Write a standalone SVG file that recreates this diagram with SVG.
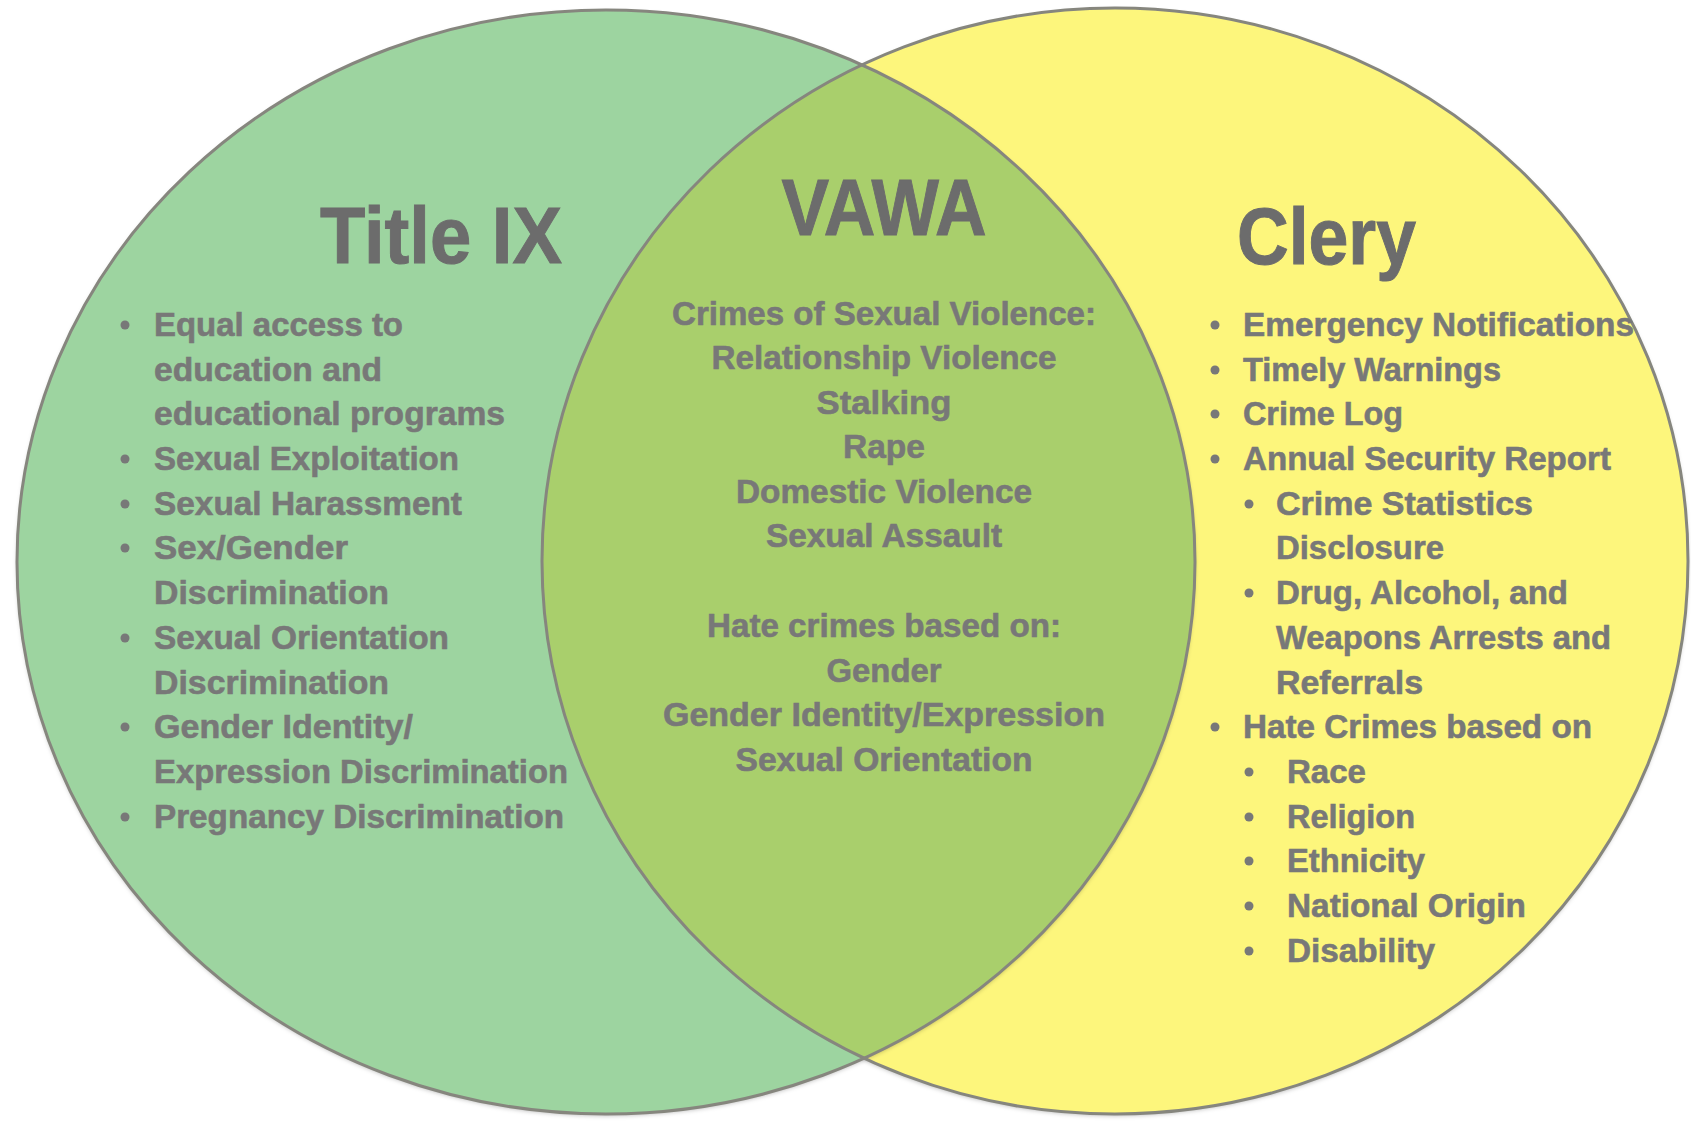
<svg xmlns="http://www.w3.org/2000/svg" width="1691" height="1124" viewBox="0 0 1691 1124">
<style>
  .t { font-family: "Liberation Sans", Arial, sans-serif; font-weight: bold; font-size: 34px; fill: #787878; stroke: #787878; stroke-width: 0.6; }
  .h { font-family: "Liberation Sans", Arial, sans-serif; font-weight: bold; font-size: 80px; fill: #6c6c6c; stroke: #6c6c6c; stroke-width: 1; }
  .m { text-anchor: middle; }
  .edge { fill: none; stroke: #86867e; stroke-width: 3; }
  .b { fill: #787878; }
</style>
<defs>
  <clipPath id="clipYellow">
    <ellipse cx="1115" cy="561" rx="573" ry="553"/>
  </clipPath>
  <filter id="shadow" x="-5%" y="-5%" width="110%" height="110%">
    <feDropShadow dx="0" dy="2" stdDeviation="2" flood-color="#000000" flood-opacity="0.25"/>
  </filter>
</defs>

<g id="venn-shapes">
  <ellipse id="clery-circle" cx="1115" cy="561" rx="573" ry="553" fill="#fdf67b" filter="url(#shadow)"/>
  <ellipse id="titleix-circle" cx="606" cy="562" rx="589" ry="552" fill="#9dd4a0" filter="url(#shadow)"/>
  <ellipse id="vawa-overlap" cx="606" cy="562" rx="589" ry="552" fill="#a9cf6c" clip-path="url(#clipYellow)"/>
  <ellipse class="edge" cx="1115" cy="561" rx="573" ry="553"/>
  <ellipse class="edge" cx="606" cy="562" rx="589" ry="552"/>
</g>

<g id="titleix">
  <text class="h" x="320" y="263" textLength="242" lengthAdjust="spacingAndGlyphs">Title IX</text>
  <circle class="b" cx="125" cy="325" r="4.5"/>
  <text class="t" x="154" y="336" textLength="249" lengthAdjust="spacingAndGlyphs">Equal access to</text>
  <text class="t" x="154" y="381" textLength="228" lengthAdjust="spacingAndGlyphs">education and</text>
  <text class="t" x="154" y="425" textLength="351" lengthAdjust="spacingAndGlyphs">educational programs</text>
  <circle class="b" cx="125" cy="459" r="4.5"/>
  <text class="t" x="154" y="470" textLength="305" lengthAdjust="spacingAndGlyphs">Sexual Exploitation</text>
  <circle class="b" cx="125" cy="504" r="4.5"/>
  <text class="t" x="154" y="515" textLength="308" lengthAdjust="spacingAndGlyphs">Sexual Harassment</text>
  <circle class="b" cx="125" cy="548" r="4.5"/>
  <text class="t" x="154" y="559" textLength="194" lengthAdjust="spacingAndGlyphs">Sex/Gender</text>
  <text class="t" x="154" y="604" textLength="235" lengthAdjust="spacingAndGlyphs">Discrimination</text>
  <circle class="b" cx="125" cy="638" r="4.5"/>
  <text class="t" x="154" y="649" textLength="295" lengthAdjust="spacingAndGlyphs">Sexual Orientation</text>
  <text class="t" x="154" y="694" textLength="235" lengthAdjust="spacingAndGlyphs">Discrimination</text>
  <circle class="b" cx="125" cy="727" r="4.5"/>
  <text class="t" x="154" y="738" textLength="259" lengthAdjust="spacingAndGlyphs">Gender Identity/</text>
  <text class="t" x="154" y="783" textLength="414" lengthAdjust="spacingAndGlyphs">Expression Discrimination</text>
  <circle class="b" cx="125" cy="817" r="4.5"/>
  <text class="t" x="154" y="828" textLength="410" lengthAdjust="spacingAndGlyphs">Pregnancy Discrimination</text>
</g>

<g id="vawa">
  <text class="h m" x="884" y="235" textLength="205" lengthAdjust="spacingAndGlyphs">VAWA</text>
  <text class="t m" x="884" y="325" textLength="424" lengthAdjust="spacingAndGlyphs">Crimes of Sexual Violence:</text>
  <text class="t m" x="884" y="369" textLength="345" lengthAdjust="spacingAndGlyphs">Relationship Violence</text>
  <text class="t m" x="884" y="414" textLength="135" lengthAdjust="spacingAndGlyphs">Stalking</text>
  <text class="t m" x="884" y="458" textLength="82" lengthAdjust="spacingAndGlyphs">Rape</text>
  <text class="t m" x="884" y="503" textLength="296" lengthAdjust="spacingAndGlyphs">Domestic Violence</text>
  <text class="t m" x="884" y="547" textLength="236" lengthAdjust="spacingAndGlyphs">Sexual Assault</text>
  <text class="t m" x="884" y="637" textLength="354" lengthAdjust="spacingAndGlyphs">Hate crimes based on:</text>
  <text class="t m" x="884" y="682" textLength="115" lengthAdjust="spacingAndGlyphs">Gender</text>
  <text class="t m" x="884" y="726" textLength="442" lengthAdjust="spacingAndGlyphs">Gender Identity/Expression</text>
  <text class="t m" x="884" y="771" textLength="297" lengthAdjust="spacingAndGlyphs">Sexual Orientation</text>
</g>

<g id="clery">
  <text class="h" x="1237" y="264" textLength="179" lengthAdjust="spacingAndGlyphs">Clery</text>
  <circle class="b" cx="1215" cy="325" r="4.5"/>
  <text class="t" x="1243" y="336" textLength="391" lengthAdjust="spacingAndGlyphs">Emergency Notifications</text>
  <circle class="b" cx="1215" cy="370" r="4.5"/>
  <text class="t" x="1243" y="381" textLength="258" lengthAdjust="spacingAndGlyphs">Timely Warnings</text>
  <circle class="b" cx="1215" cy="414" r="4.5"/>
  <text class="t" x="1243" y="425" textLength="160" lengthAdjust="spacingAndGlyphs">Crime Log</text>
  <circle class="b" cx="1215" cy="459" r="4.5"/>
  <text class="t" x="1243" y="470" textLength="368" lengthAdjust="spacingAndGlyphs">Annual Security Report</text>
  <circle class="b" cx="1249" cy="504" r="4.5"/>
  <text class="t" x="1276" y="515" textLength="257" lengthAdjust="spacingAndGlyphs">Crime Statistics</text>
  <text class="t" x="1276" y="559" textLength="168" lengthAdjust="spacingAndGlyphs">Disclosure</text>
  <circle class="b" cx="1249" cy="593" r="4.5"/>
  <text class="t" x="1276" y="604" textLength="292" lengthAdjust="spacingAndGlyphs">Drug, Alcohol, and</text>
  <text class="t" x="1276" y="649" textLength="335" lengthAdjust="spacingAndGlyphs">Weapons Arrests and</text>
  <text class="t" x="1276" y="694" textLength="147" lengthAdjust="spacingAndGlyphs">Referrals</text>
  <circle class="b" cx="1215" cy="727" r="4.5"/>
  <text class="t" x="1243" y="738" textLength="349" lengthAdjust="spacingAndGlyphs">Hate Crimes based on</text>
  <circle class="b" cx="1249" cy="772" r="4.5"/>
  <text class="t" x="1287" y="783" textLength="79" lengthAdjust="spacingAndGlyphs">Race</text>
  <circle class="b" cx="1249" cy="817" r="4.5"/>
  <text class="t" x="1287" y="828" textLength="128" lengthAdjust="spacingAndGlyphs">Religion</text>
  <circle class="b" cx="1249" cy="861" r="4.5"/>
  <text class="t" x="1287" y="872" textLength="138" lengthAdjust="spacingAndGlyphs">Ethnicity</text>
  <circle class="b" cx="1249" cy="906" r="4.5"/>
  <text class="t" x="1287" y="917" textLength="239" lengthAdjust="spacingAndGlyphs">National Origin</text>
  <circle class="b" cx="1249" cy="951" r="4.5"/>
  <text class="t" x="1287" y="962" textLength="148" lengthAdjust="spacingAndGlyphs">Disability</text>
</g>
</svg>
